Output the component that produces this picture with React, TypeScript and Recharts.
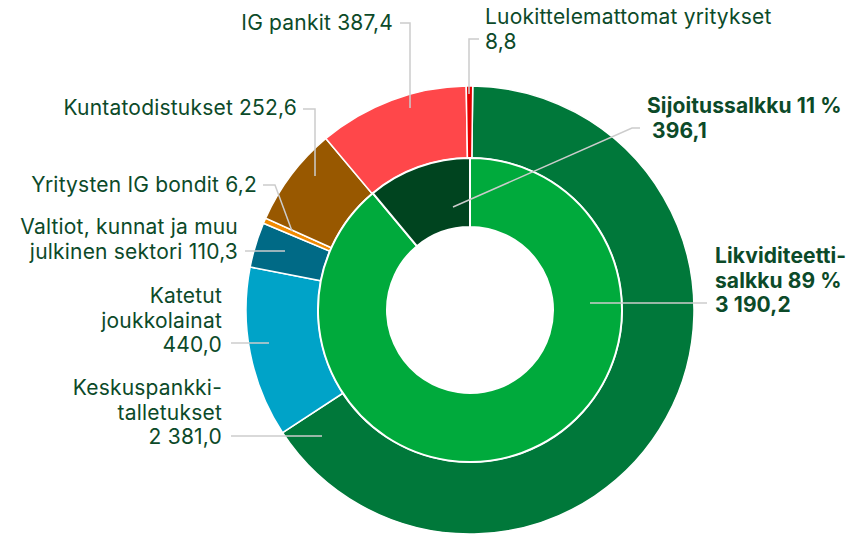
import React from 'react';
import { PieChart, Pie, Cell } from 'recharts';

// outer ring, clockwise from 12 o'clock
const outerNames = [
    'Keskuspankkitalletukset',
    'Katetut joukkolainat',
    'Valtiot, kunnat ja muu julkinen sektori',
    'Yritysten IG bondit',
    'Kuntatodistukset',
    'IG pankit',
    'Luokittelemattomat yritykset',
];
const outerValues = [2381.0, 440.0, 110.3, 6.2, 252.6, 387.4, 8.8];
const outerColors = ['#00783a', '#00a3c8', '#006a86', '#f08a00', '#985800', '#ff474a', '#e00000'];
const outerLabelText = [
    ['Keskuspankki-', 'talletukset'],
    ['Katetut', 'joukkolainat'],
    ['Valtiot, kunnat ja muu', 'julkinen sektori'],
    ['Yritysten IG bondit'],
    ['Kuntatodistukset'],
    ['IG pankit'],
    ['Luokittelemattomat yritykset'],
];

// inner ring
const innerNames = ['Likviditeettisalkku', 'Sijoitussalkku'];
const innerValues = [3190.2, 396.1];
const innerColors = ['#00aa3c', '#00441f'];
const innerLabelText = [['Likviditeetti-', 'salkku'], ['Sijoitussalkku']];

const outerData = outerNames.map((name, i) => ({ name, value: outerValues[i] }));
const innerData = innerNames.map((name, i) => ({ name, value: innerValues[i] }));
const innerTotal = innerValues.reduce((a, b) => a + b, 0);

const TEXT = '#0c4a29';
const LEADER = '#cccccc';
const FONT = 'Inter, Roboto, sans-serif';
const LINE_H = 24.5;

// label placement, offsets from the pie centre
type LabelPos = { x: number; y: number; anchor: 'start' | 'end'; valueOwnLine: boolean; pts: number[][] };

const outerLabelPos: LabelPos[] = [
    { x: -248, y: 85, anchor: 'end', valueOwnLine: true, pts: [[-239, 126], [-148, 126]] },
    { x: -248, y: -7, anchor: 'end', valueOwnLine: true, pts: [[-239, 33], [-201, 33]] },
    { x: -232, y: -76, anchor: 'end', valueOwnLine: false, pts: [[-225, -59], [-185, -59]] },
    { x: -213, y: -118, anchor: 'end', valueOwnLine: false, pts: [[-207, -125], [-195, -125], [-178, -79]] },
    { x: -173, y: -195, anchor: 'end', valueOwnLine: false, pts: [[-167, -201], [-155, -201], [-155, -134]] },
    { x: -77, y: -280, anchor: 'end', valueOwnLine: false, pts: [[-70, -287], [-60, -287], [-60, -202]] },
    { x: 15, y: -286, anchor: 'start', valueOwnLine: true, pts: [[9, -271], [-1, -271], [-1, -216]] },
];

const innerLabelPos: LabelPos[] = [
    { x: 245, y: -47, anchor: 'start', valueOwnLine: true, pts: [[120, -7], [237, -7]] },
    { x: 177, y: -197, anchor: 'start', valueOwnLine: true, pts: [[170, -182], [162, -182], [-17, -103]] },
];

const fmt = (v: number) => {
    const [i, d] = v.toFixed(1).split('.');
    return i.replace(/\B(?=(\d{3})+(?!\d))/g, ' ') + ',' + d;
};

function makeLabel(texts: string[][], pos: LabelPos[], bold: boolean, withPct: boolean) {
    return (props: any) => {
        const { cx, cy, index, value } = props;
        const p = pos[index];
        const lines = [...texts[index]];
        if (withPct) {
            lines[lines.length - 1] += ' ' + Math.round((value / innerTotal) * 100) + ' %';
        }
        if (p.valueOwnLine) lines.push((withPct && index === 1 ? '\u00a0' : '') + fmt(value));
        else lines[lines.length - 1] += ' ' + fmt(value);
        const points = p.pts.map(([px, py]) => `${cx + px},${cy + py}`).join(' ');
        return (
            <g key={`lbl-${index}`}>
                <polyline points={points} fill="none" stroke={LEADER} strokeWidth={1.5} />
                <text
                    x={cx + p.x}
                    y={cy + p.y}
                    textAnchor={p.anchor}
                    fill={TEXT}
                    fontFamily={FONT}
                    fontSize={21}
                    fontWeight={bold ? 700 : 400}
                    letterSpacing={bold ? 0.1 : 0.2}
                >
                    {lines.map((l, k) => (
                        <tspan key={k} x={cx + p.x} dy={k === 0 ? 0 : LINE_H}>
                            {l}
                        </tspan>
                    ))}
                </text>
            </g>
        );
    };
}

export default function App() {
    return (
        <div style={{ position: 'absolute', left: 0, top: 0, width: 867, height: 535, background: '#fff' }}>
            <PieChart width={867} height={535} margin={{ top: 0, right: 0, bottom: 0, left: 0 }}>
                <Pie
                    data={outerData}
                    dataKey="value"
                    nameKey="name"
                    cx={470}
                    cy={310}
                    innerRadius={152}
                    outerRadius={224}
                    startAngle={89.3}
                    endAngle={-270.7}
                    minAngle={0.8}
                    stroke="#ffffff"
                    strokeWidth={1.5}
                    isAnimationActive={false}
                    labelLine={false}
                    label={makeLabel(outerLabelText, outerLabelPos, false, false)}
                >
                    {outerData.map((d, i) => (
                        <Cell key={d.name} fill={outerColors[i]} />
                    ))}
                </Pie>
                <Pie
                    data={innerData}
                    dataKey="value"
                    nameKey="name"
                    cx={470}
                    cy={310}
                    innerRadius={83}
                    outerRadius={152}
                    startAngle={90}
                    endAngle={-270}
                    stroke="#ffffff"
                    strokeWidth={2}
                    isAnimationActive={false}
                    labelLine={false}
                    label={makeLabel(innerLabelText, innerLabelPos, true, true)}
                >
                    {innerData.map((d, i) => (
                        <Cell key={d.name} fill={innerColors[i]} />
                    ))}
                </Pie>
            </PieChart>
        </div>
    );
}
